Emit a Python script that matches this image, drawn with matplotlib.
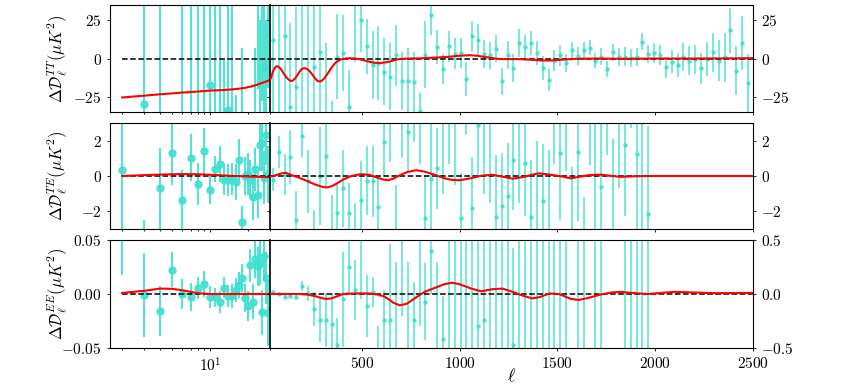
import numpy as np
import matplotlib
matplotlib.use('Agg')
import matplotlib.pyplot as plt
from matplotlib.ticker import FuncFormatter, NullFormatter, FixedLocator

plt.rcParams['mathtext.fontset'] = 'cm'
plt.rcParams['font.family'] = 'serif'
plt.rcParams['font.serif'] = ['DejaVu Serif']

# --- low-ell (unbinned) residuals, ell = 2..29 ---
ell_lo = np.arange(2, 30)
tt_lo = [-600, -30, 100, -500, 150, -50, 80, 60, -17, 100, -60, -140, -33.5, 60,
         -140, 300, -100, -250, 280, -300, 260, -70, 50, -45, 40, -5.7, -40, 45]
tt_lo_err = [400, 300, 250, 300, 220, 200, 180, 170, 160, 150, 140, 140, 130, 120,
             116, 100, 107, 95, 90, 88, 85, 77, 70, 70, 68, 66, 65, 64]
te_lo = [0.35, -4.5, -0.7, 1.28, -1.35, 1.04, -0.44, 1.39, -0.81, 0.39, 0.68, -0.2, -0.24, -0.15,
         -0.33, 0.9, -2.6, 0.0, 0.1, -0.2, -1.17, 0.37, -1.1, 1.76, 1.89, -0.1, 2.35, 0.1]
te_lo_err = [3.5, 2.0, 2.3, 1.8, 1.7, 1.35, 1.2, 1.3, 0.8, 0.75, 1.0, 0.9, 0.9, 0.9,
             1.0, 1.2, 0.9, 1.1, 1.2, 1.1, 1.3, 1.2, 1.3, 1.5, 1.6, 1.5, 1.7, 1.6]
ee_lo = [0.06, -0.001, -0.016, 0.0225, 0.0, -0.003, 0.0055, 0.009, -0.003, -0.003, -0.0075, 0.006,
         -0.002, -0.002, 0.0035, 0.0086, 0.015, -0.004, -0.011, 0.0265, -0.007, 0.032, 0.0256,
         0.0287, -0.017, 0.035, 0.015, -0.018]
ee_lo_err = [0.042, 0.039, 0.023, 0.016, 0.014, 0.013, 0.01, 0.012, 0.01, 0.009, 0.01, 0.01,
             0.01, 0.011, 0.011, 0.012, 0.013, 0.013, 0.014, 0.015, 0.016, 0.017, 0.018,
             0.02, 0.021, 0.022, 0.024, 0.03]

# --- high-ell binned residuals (bin width 30) ---
ell_tt = np.arange(44.5, 2500, 30)
tt_hi = [12.3, 45, 14.7, -32, -18.4, -40, 38, -5.3, 4.4, -40, -55, 1.3, 3.5, -31.6, 40, 25,
         7.9, -4.2, -3, -8.6, -11.8, 2, -15, -15, -15.6, -34.6, 2.4, 28.7, 7.5, -6.8, 7.9, 3.1,
         3.5, -13.4, 14.5, 12.3, 3.1, 2.0, 6.4, -15, 2.4, -6.1, 10, 7.5, 10, 3.5, -6.1, -14,
         -1.3, 2, -3, 5.3, 1.8, 5.3, 7.2, -1.3, 1.3, -6.8, 4, 0.9, 1.3, 0.4, 0.9, 11, 3, 3.5,
         2.4, -5.7, -2, -4.2, 0.9, -1.3, -0.4, -6.4, -0.4, 4, -1.3, 0.9, 18.4, -7.9, 10, -15.8]
tt_hi_err = [70, 90, 60, 55, 52, 80, 75, 45, 42, 50, 27, 28, 25, 24, 42, 21,
             18, 22, 24, 22, 22, 20, 19, 22, 20, 12, 22, 13, 11, 10, 10, 10,
             10, 11, 10, 10, 9, 9, 9, 9, 9, 9, 9, 8, 8, 8, 8, 7,
             7, 7, 6, 5.7, 6, 5.5, 5, 5, 5.5, 5.3, 5.5, 6, 6, 6, 6, 5.5, 6, 6.5,
             6.5, 7, 7.5, 8, 9, 9.5, 9.5, 10, 11, 12.5, 13.5, 16, 14.5, 16, 17.5, 19]

ell_pol = np.arange(44.5, 1970, 30)
te_hi = [-0.2, 1.37, 0.1, 1.07, -2.48, 2.28, -0.3, -3.9, 0.0, 1.15, -3.8, -2.07, -0.7, -2.07,
         -3.5, -1.35, -0.26, -0.3, -1.76, 1.9, 3.5, -3.5, 3.8, 2.48, 4.5, 3.6, -2.37, -0.17,
         0.43, 3.5, 3.6, 3.5, -2.35, 5.5, -1.8, 2.9, 3.5, 3.5, -2.3, -1.7, -1.13, 0.9,
         3.5, 0.72, -2.3, -3.5, -1.4, -3.5, 3.6, 1.3, 3.5, -3.4, 1.37, -4.5, 4.0, -3.1,
         -0.6, 4.6, -3.3, 3.3, 1.76, 6.5, 1.24, -3.5, -2.15]
te_hi_err = [0.65, 0.9, 1.15, 1.55, 1.65, 1.2, 1.8, 2.0, 2.8, 1.8, 2.7, 1.7, 2.2, 1.7,
             2.0, 2.2, 1.95, 2.0, 1.6, 1.9, 2.7, 3.0, 2.8, 2.2, 2.6, 2.9, 2.4, 3.5,
             2.3, 4.5, 2.9, 4.0, 2.5, 3.2, 2.9, 3.0, 4.5, 5.0, 3.5, 3.0, 3.0, 2.8,
             5.0, 3.0, 3.2, 5.5, 3.2, 5.0, 2.9, 3.8, 3.2, 3.9, 3.9, 3.3, 3.4, 6.3,
             3.9, 3.4, 5.4, 4.0, 4.0, 3.8, 4.5, 7.0, 5.0]
ee_hi = [0.015, 0.0, -0.025, -0.015, -0.025, 0.074, 0.006, -0.14, -0.24, -0.24, -0.28, -0.47,
         -0.05, 0.25, 0.037, 0.65, -0.11, 0.02, -0.8, -0.24, -0.24, -0.6, 0.6, -0.7, -0.24, 0.7,
         -0.07, 0.4, -0.6, -0.42, 0.7, -0.7, 0.7, -0.7, 0.7, -0.3, -0.24, 0.7, -0.7, 0.7, -0.7,
         -0.47, 0.7, -0.7, 0.7, -0.7, 0.7, -0.7, 0.7, -0.7, 0.7, 1.8, -0.7, 0.7, -1.8, 0.7,
         -0.7, 1.8, -1.8, 1.8, 0.7, -0.7, 0.7, -0.7, 0.7]
ee_hi_err = [0.012, 0.02, 0.02, 0.025, 0.03, 0.05, 0.07, 0.16, 0.2, 0.25, 0.28, 0.25,
             0.44, 0.25, 0.28, 0.7, 0.29, 0.14, 0.5, 0.28, 0.7, 0.9, 0.8, 1.0, 0.35, 1.0,
             0.36, 0.4, 0.9, 0.4, 1.4, 1.4, 1.4, 1.4, 1.4, 0.9, 0.9, 1.4, 1.4, 1.4, 1.4,
             0.9, 1.4, 1.4, 1.4, 1.4, 1.4, 1.4, 1.4, 1.4, 1.4, 1.0, 1.4, 1.4, 1.0, 1.4,
             1.4, 1.0, 1.0, 1.0, 1.4, 1.4, 1.4, 1.4, 1.4]

# --- model difference curves ---
m_ell_lo = [2, 3, 4, 5, 6, 8, 10, 13, 16, 19, 22, 25, 28, 30]
m_tt_lo = [-25.5, -24.3, -23.4, -22.8, -22.3, -21.6, -21.0, -20.6, -20.0, -19.2, -18.0, -16.5, -15.0, -14.0]
m_te_lo = [0.0, 0.05, 0.08, 0.1, 0.11, 0.1, 0.07, 0.03, 0.0, -0.02, -0.04, -0.05, -0.06, -0.05]
m_ee_lo = [0.001, 0.003, 0.005, 0.0048, 0.0035, 0.0008, 0.0, 0.0, 0.0, 0.0, 0.0, 0.0, 0.0, 0.0]

m_ell_tt = [30, 34, 45, 56, 64, 72, 83, 95, 110, 123, 135, 144, 155, 166, 180, 191, 202, 212,
            223, 234, 247, 259, 272, 285, 298, 310, 323, 336, 349, 361, 378, 395, 415, 438,
            465, 489, 515, 540, 565, 591, 617, 642, 668, 693, 740, 795, 860, 931, 990, 1049,
            1090, 1134, 1170, 1202, 1250, 1304, 1360, 1423, 1465, 1508, 1593, 1700, 1850,
            2000, 2200, 2500]
m_tt_hi = [-14.0, -13.0, -8.5, -5.8, -5.0, -5.3, -6.5, -8.8, -11.8, -13.6, -14.6, -14.6, -13.5,
           -11.6, -8.8, -7.0, -6.3, -6.4, -7.2, -8.5, -10.6, -12.8, -14.6, -15.1, -14.2, -12.6,
           -10.2, -7.6, -5.2, -3.3, -1.5, -0.5, 0.0, 0.2, 0.0, -0.5, -1.3, -2.2, -2.8, -3.0,
           -2.6, -2.0, -1.0, -0.3, 0.0, 0.1, 0.5, 1.0, 1.7, 2.2, 1.8, 0.9, 0.2, -0.3, -0.4,
           -0.4, -0.8, -1.3, -1.3, -0.9, -0.2, 0.0, -0.2, 0.0, 0.0, 0.2]
m_ell_pol = [30, 60, 90, 112, 140, 180, 220, 260, 300, 320, 345, 375, 404, 440, 480, 506, 540,
             580, 610, 634, 660, 693, 730, 778, 820, 863, 920, 960, 1000, 1060, 1110, 1169,
             1220, 1270, 1330, 1372, 1406, 1460, 1508, 1568, 1610, 1660, 1720, 1780, 1823,
             1880, 1960, 2100, 2300, 2500]
m_te_hi = [-0.04, 0.05, 0.15, 0.18, 0.05, -0.1, -0.28, -0.48, -0.62, -0.65, -0.58, -0.4, -0.2,
           -0.02, 0.08, 0.1, 0.06, -0.1, -0.2, -0.24, -0.15, 0.04, 0.22, 0.33, 0.25, 0.1,
           -0.12, -0.22, -0.24, -0.12, 0.02, 0.07, -0.04, -0.15, -0.05, 0.08, 0.15, 0.08, 0.0,
           -0.13, -0.05, 0.05, 0.08, 0.0, -0.05, -0.02, 0.0, 0.0, 0.0, 0.0]
m_ee_hi = [0.0, 0.0, 0.0, 0.0, 0.0, 0.0, -0.005, -0.02, -0.04, -0.046, -0.04, -0.02, 0.0,
           0.004, 0.006, 0.006, 0.005, -0.005, -0.02, -0.045, -0.08, -0.105, -0.09, -0.03,
           0.02, 0.05, 0.09, 0.105, 0.09, 0.05, 0.025, 0.045, 0.05, 0.02, -0.02, -0.04, -0.03,
           0.005, 0.0, -0.045, -0.055, -0.035, -0.005, 0.015, 0.02, 0.01, 0.0, 0.02, 0.008, 0.01]

cyan = '#40E0D0'

fig = plt.figure(figsize=(8.42, 3.86), dpi=100)
rows = [(0.7098, 0.2772), (0.4067, 0.2746), (0.0984, 0.2798)]
x_lo, w_lo = 0.1306, 0.190
x_hi, w_hi = 0.3207, 0.5736

panels = [
    ("TT", tt_lo, tt_lo_err, ell_tt, tt_hi, tt_hi_err, m_tt_lo, m_ell_tt, m_tt_hi,
     (-35, 35), (-35, 35), [-25, 0, 25], [-25, 0, 25], "%d", "%d"),
    ("TE", te_lo, te_lo_err, ell_pol, te_hi, te_hi_err, m_te_lo, m_ell_pol, m_te_hi,
     (-3, 3), (-3, 3), [-2, 0, 2], [-2, 0, 2], "%d", "%d"),
    ("EE", ee_lo, ee_lo_err, ell_pol, ee_hi, ee_hi_err, m_ee_lo, m_ell_pol, m_ee_hi,
     (-0.05, 0.05), (-0.5, 0.5), [-0.05, 0, 0.05], [-0.5, 0, 0.5], "%.2f", "%.1f"),
]

for i, (name, ylo, elo, lhi, yhi, ehi, mlo, mlhi, mhi, ylim_lo, ylim_hi,
        yt_lo, yt_hi, fmt_lo, fmt_hi) in enumerate(panels):
    b, h = rows[i]
    axl = fig.add_axes([x_lo, b, w_lo, h])
    axr = fig.add_axes([x_hi, b, w_hi, h])

    # low ell
    axl.errorbar(ell_lo, ylo, yerr=elo, fmt='o', color=cyan, ms=5, elinewidth=1.5,
                 capsize=0, alpha=0.9, zorder=2)
    axl.plot([2, 30], [0, 0], 'k--', lw=1.1, zorder=3)
    axl.plot(m_ell_lo, mlo, color='red', lw=1.5, zorder=4)
    axl.set_xscale('log')
    axl.set_xlim(1.6, 30)
    axl.set_ylim(*ylim_lo)
    axl.set_yticks(yt_lo)
    axl.yaxis.set_major_formatter(FuncFormatter(lambda v, p, f=fmt_lo: '$' + (f % v) + '$'))
    axl.xaxis.set_major_locator(FixedLocator([10]))
    axl.xaxis.set_minor_locator(FixedLocator([2, 3, 4, 5, 6, 7, 8, 9, 20, 30]))
    axl.xaxis.set_minor_formatter(NullFormatter())
    axl.set_ylabel(r'$\Delta\mathcal{D}_\ell^{%s}(\mu K^2)$' % name, fontsize=12)
    axl.yaxis.set_label_coords(-0.25, 0.5)

    # high ell
    axr.errorbar(lhi, yhi, yerr=ehi, fmt='o', color=cyan, ms=2.2, elinewidth=1.2,
                 capsize=0, alpha=0.85, zorder=2)
    axr.plot([30, 2500], [0, 0], 'k--', lw=1.1, zorder=3)
    axr.plot(mlhi, mhi, color='red', lw=1.5, zorder=4)
    axr.set_xlim(30, 2500)
    axr.set_ylim(*ylim_hi)
    axr.set_yticks(yt_hi)
    axr.yaxis.tick_right()
    axr.yaxis.set_ticks_position('both')
    axr.tick_params(axis='y', labelleft=False, labelright=True)
    axr.yaxis.set_major_formatter(FuncFormatter(lambda v, p, f=fmt_hi: '$' + (f % v) + '$'))
    axr.set_xticks([500, 1000, 1500, 2000, 2500])
    axr.xaxis.set_major_formatter(FuncFormatter(lambda v, p: '$%d$' % v))

    for ax in (axl, axr):
        ax.tick_params(which='both', labelsize=11, length=2.5, width=0.6)
        ax.tick_params(which='minor', length=1.5)
        for s in ax.spines.values():
            s.set_linewidth(0.8)
    axr.spines['left'].set_linewidth(1.2)

    if i < 2:
        axl.tick_params(axis='x', which='both', labelbottom=False)
        axr.tick_params(axis='x', labelbottom=False)
    else:
        axl.set_xticklabels([r'$10^1$'])
        axr.set_xlabel(r'$\ell$', fontsize=13)
        axr.xaxis.set_label_coords(0.5, -0.18)

fig.savefig('out.png', dpi=100)
